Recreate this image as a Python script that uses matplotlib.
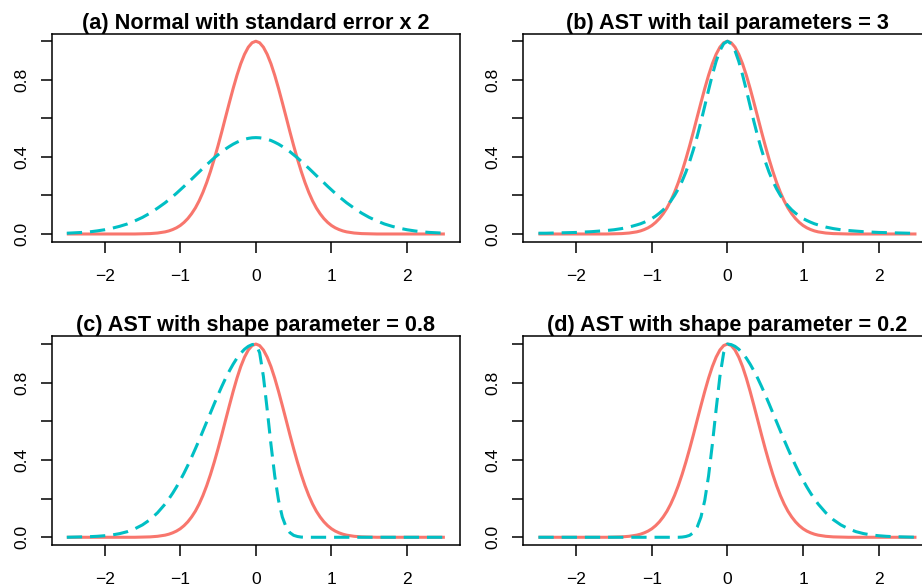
import matplotlib
matplotlib.use('Agg')
import matplotlib.pyplot as plt

plt.rcParams['font.family'] = ['Liberation Sans', 'DejaVu Sans']

# ---- data (x grid and curve heights) ----
x = [-2.5, -2.4, -2.3, -2.2, -2.1, -2.0, -1.9, -1.8, -1.7, -1.6, -1.5, -1.4, -1.3,
     -1.2, -1.15, -1.1, -1.05, -1.0, -0.95, -0.9, -0.85, -0.8, -0.75, -0.7, -0.65,
     -0.6, -0.55, -0.5, -0.45, -0.4, -0.35, -0.3, -0.25, -0.2, -0.15, -0.1, -0.05,
     0.0,
     0.05, 0.1, 0.15, 0.2, 0.25, 0.3, 0.35, 0.4, 0.45, 0.5, 0.55, 0.6,
     0.65, 0.7, 0.75, 0.8, 0.85, 0.9, 0.95, 1.0, 1.05, 1.1, 1.15, 1.2,
     1.3, 1.4, 1.5, 1.6, 1.7, 1.8, 1.9, 2.0, 2.1, 2.2, 2.3, 2.4, 2.5]

reference = [0, 0, 0, 0, 0, 0, 0, 0, 0, 0, 0.001, 0.002, 0.005,
             0.011, 0.016, 0.023, 0.032, 0.044, 0.060, 0.080, 0.105, 0.135, 0.172, 0.216, 0.267,
             0.325, 0.389, 0.458, 0.531, 0.607, 0.682, 0.755, 0.823, 0.883, 0.932, 0.969, 0.992,
             1.000,
             0.992, 0.969, 0.932, 0.883, 0.823, 0.755, 0.682, 0.607, 0.531, 0.458, 0.389, 0.325,
             0.267, 0.216, 0.172, 0.135, 0.105, 0.080, 0.060, 0.044, 0.032, 0.023, 0.016, 0.011,
             0.005, 0.002, 0.001, 0, 0, 0, 0, 0, 0, 0, 0, 0, 0]

normal_x2 = [0.004, 0.006, 0.008, 0.011, 0.016, 0.022, 0.030, 0.040, 0.052, 0.068, 0.086, 0.108, 0.134,
             0.162, 0.178, 0.194, 0.211, 0.229, 0.247, 0.266, 0.284, 0.303, 0.322, 0.341, 0.359,
             0.377, 0.395, 0.411, 0.427, 0.441, 0.454, 0.466, 0.476, 0.485, 0.491, 0.496, 0.499,
             0.500,
             0.499, 0.496, 0.491, 0.485, 0.476, 0.466, 0.454, 0.441, 0.427, 0.411, 0.395, 0.377,
             0.359, 0.341, 0.322, 0.303, 0.284, 0.266, 0.247, 0.229, 0.211, 0.194, 0.178, 0.162,
             0.134, 0.108, 0.086, 0.068, 0.052, 0.040, 0.030, 0.022, 0.016, 0.011, 0.008, 0.006, 0.004]

ast_tail3 = [0.004, 0.004, 0.005, 0.006, 0.007, 0.008, 0.010, 0.012, 0.015, 0.018, 0.022, 0.028, 0.036,
             0.047, 0.053, 0.061, 0.070, 0.080, 0.093, 0.108, 0.125, 0.146, 0.171, 0.200, 0.234,
             0.274, 0.321, 0.376, 0.438, 0.507, 0.583, 0.664, 0.746, 0.825, 0.895, 0.951, 0.987,
             1.000,
             0.987, 0.951, 0.895, 0.825, 0.746, 0.664, 0.583, 0.507, 0.438, 0.376, 0.321, 0.274,
             0.234, 0.200, 0.171, 0.146, 0.125, 0.108, 0.093, 0.080, 0.070, 0.061, 0.053, 0.047,
             0.036, 0.028, 0.022, 0.018, 0.015, 0.012, 0.010, 0.008, 0.007, 0.006, 0.005, 0.004, 0.004]

ast_shape08 = [0.000, 0.001, 0.002, 0.003, 0.005, 0.008, 0.012, 0.019, 0.029, 0.044, 0.064, 0.091, 0.127,
               0.172, 0.199, 0.228, 0.260, 0.295, 0.332, 0.372, 0.414, 0.458, 0.503, 0.550, 0.597,
               0.644, 0.691, 0.737, 0.781, 0.823, 0.861, 0.896, 0.927, 0.952, 0.973, 0.988, 0.997,
               1.000,
               0.955, 0.832, 0.661, 0.480, 0.317, 0.191, 0.105, 0.053, 0.024, 0.010, 0.004, 0.001,
               0, 0, 0, 0, 0, 0, 0, 0, 0, 0, 0, 0,
               0, 0, 0, 0, 0, 0, 0, 0, 0, 0, 0, 0, 0]

ast_shape02 = [0, 0, 0, 0, 0, 0, 0, 0, 0, 0, 0, 0, 0,
               0, 0, 0, 0, 0, 0, 0, 0, 0, 0, 0, 0,
               0.001, 0.004, 0.010, 0.024, 0.053, 0.105, 0.191, 0.317, 0.480, 0.661, 0.832, 0.955,
               1.000,
               0.997, 0.988, 0.973, 0.952, 0.927, 0.896, 0.861, 0.823, 0.781, 0.737, 0.691, 0.644,
               0.597, 0.550, 0.503, 0.458, 0.414, 0.372, 0.332, 0.295, 0.260, 0.228, 0.199, 0.172,
               0.127, 0.091, 0.064, 0.044, 0.029, 0.019, 0.012, 0.008, 0.005, 0.003, 0.002, 0.001, 0.000]

titles = ["(a) Normal with standard error x 2",
          "(b) AST with tail parameters = 3",
          "(c) AST with shape parameter = 0.8",
          "(d) AST with shape parameter = 0.2"]
comparisons = [normal_x2, ast_tail3, ast_shape08, ast_shape02]

x_ticks = [-2, -1, 0, 1, 2]
y_ticks = [0.0, 0.2, 0.4, 0.6, 0.8, 1.0]
y_ticklabels = ["0.0", "", "0.4", "", "0.8", ""]

# ---- layout ----
W, H = 922, 587
fig = plt.figure(figsize=(W / 100, H / 100), dpi=100)

boxes = [(51.7, 33.5, 460.0, 241.7),
         (523.3, 33.5, 931.6, 241.7),
         (51.7, 336.3, 460.0, 545.0),
         (523.3, 336.3, 931.6, 545.0)]

RED = '#F8766D'
TEAL = '#00BFC4'

for (l, t, r, b), title, comp in zip(boxes, titles, comparisons):
    ax = fig.add_axes([l / W, 1 - b / H, (r - l) / W, (b - t) / H])
    ax.plot(x, reference, color=RED, lw=2.2, solid_capstyle='butt')
    ax.plot(x, comp, color=TEAL, lw=2.2, linestyle=(0, (5.0, 2.6)), dash_capstyle='butt')
    ax.set_xlim(-2.7, 2.7)
    ax.set_ylim(-0.04, 1.04)
    ax.set_xticks(x_ticks)
    ax.set_xticklabels([str(v).replace('-', '\u2212') for v in x_ticks])
    ax.set_yticks(y_ticks)
    ax.set_yticklabels(y_ticklabels, rotation=90, va='center')
    ax.tick_params(direction='out', length=7.9, width=1.1, labelsize=12.6, colors='black')
    ax.tick_params(axis='x', pad=11.5)
    ax.tick_params(axis='y', pad=8.5)
    for s in ax.spines.values():
        s.set_linewidth(1.1)
    ax.set_title(title, fontsize=15.6, fontweight='bold', pad=3)

fig.savefig('out.png', dpi=100)
